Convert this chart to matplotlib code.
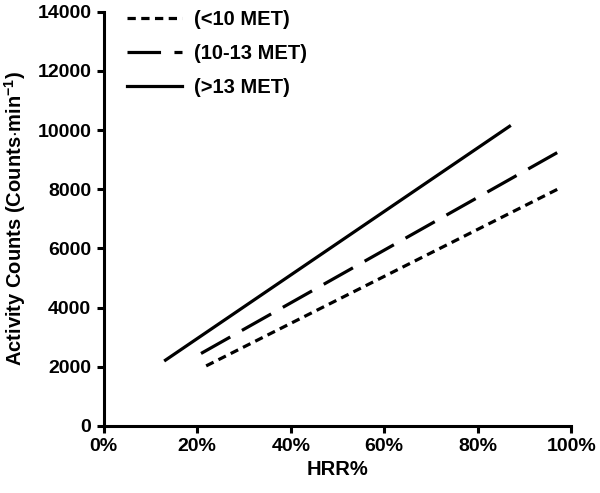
import matplotlib
matplotlib.use('Agg')
import matplotlib.pyplot as plt

plt.rcParams['font.family'] = ['Liberation Sans', 'DejaVu Sans']
plt.rcParams['font.weight'] = 'bold'
plt.rcParams['mathtext.fontset'] = 'custom'
plt.rcParams['mathtext.rm'] = 'Liberation Sans:bold'
plt.rcParams['mathtext.bf'] = 'Liberation Sans:bold'
plt.rcParams['mathtext.default'] = 'rm'

# regression lines (HRR% -> counts/min)
labels = ['(<10 MET)', '(10-13 MET)', '(>13 MET)']
x_low = [21.9, 97.3]
y_low = [2030, 8020]
x_mid = [20.8, 97.0]
y_mid = [2450, 9240]
x_high = [13.2, 86.8]
y_high = [2225, 10130]

xticks = [0, 20, 40, 60, 80, 100]
xticklabels = ['0%', '20%', '40%', '60%', '80%', '100%']
yticks = [0, 2000, 4000, 6000, 8000, 10000, 12000, 14000]

fig = plt.figure(figsize=(6, 4.93), dpi=100)
ax = fig.add_axes([0.173, 0.136, 0.779, 0.840])

lw = 2.3
ax.plot(x_low, y_low, color='black', lw=lw, dashes=(2.6, 1.7), label=labels[0])
ax.plot(x_mid, y_mid, color='black', lw=lw, dashes=(10.5, 4.2), label=labels[1])
ax.plot(x_high, y_high, color='black', lw=lw, label=labels[2])

ax.set_xlim(0, 100)
ax.set_ylim(0, 14000)
ax.set_xticks(xticks)
ax.set_xticklabels(xticklabels)
ax.set_yticks(yticks)

for s in ['top', 'right']:
    ax.spines[s].set_visible(False)
for s in ['left', 'bottom']:
    ax.spines[s].set_linewidth(2.2)
ax.tick_params(width=2.2, length=5, labelsize=14, pad=4)
for t in ax.get_xticklabels() + ax.get_yticklabels():
    t.set_fontweight('bold')

ax.set_xlabel('HRR%', fontsize=14.5, fontweight='bold', labelpad=3)
ax.set_ylabel('Activity Counts (Counts$\\cdot$min$^{-1}$)', fontsize=14.5,
              fontweight='bold', labelpad=7)

leg = ax.legend(loc='upper left', frameon=False, fontsize=14.5, handlelength=2.7,
                handletextpad=0.6, labelspacing=0.75, borderaxespad=0,
                bbox_to_anchor=(0.033, 1.024))
for t in leg.get_texts():
    t.set_fontweight('bold')

fig.savefig('out.png', dpi=100)
